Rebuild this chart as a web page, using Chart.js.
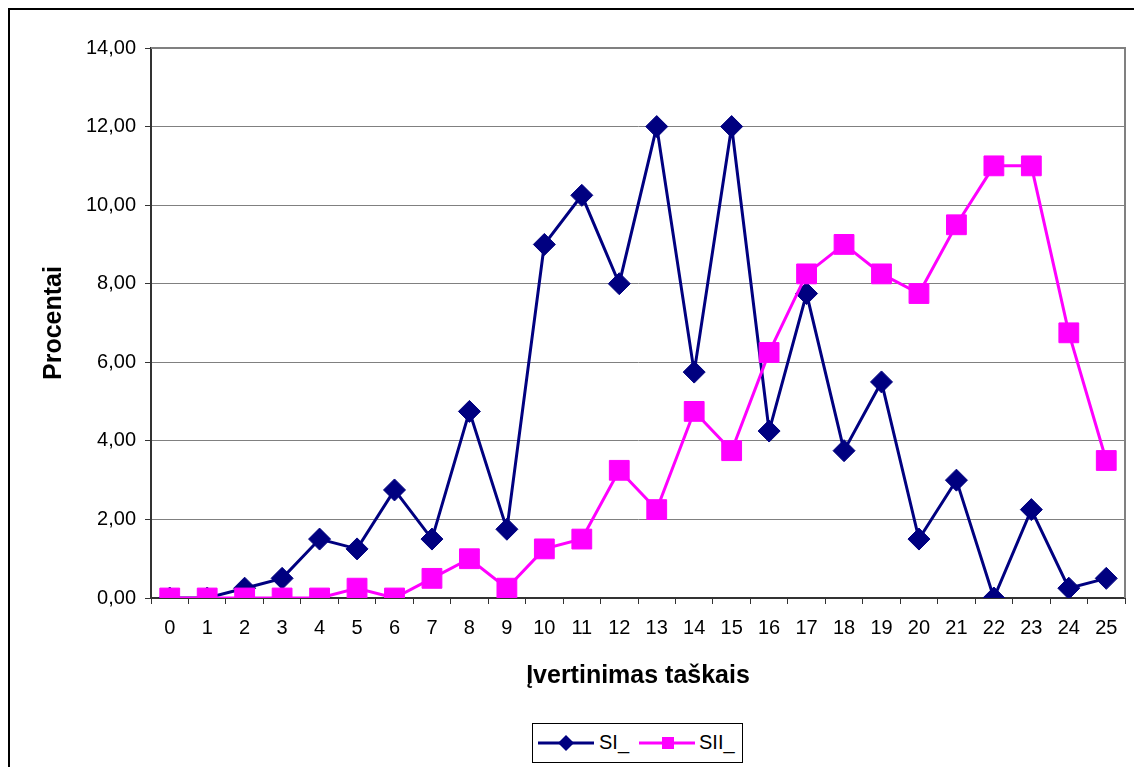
<!DOCTYPE html>
<html>
<head>
<meta charset="utf-8">
<script src="https://cdn.jsdelivr.net/npm/chart.js@4.4.1/dist/chart.umd.min.js"></script>
<style>
  html, body { margin: 0; padding: 0; background: #fff; overflow: hidden; }
  body { width: 1134px; height: 767px; position: relative; font-family: "Liberation Sans", Arial, sans-serif; }
  #frame { position: absolute; left: 8px; top: 8px; width: 1300px; height: 900px; border: 2px solid #000; box-sizing: border-box; }
  #wrap { position: absolute; left: 0; top: 0; width: 1134px; height: 767px; }
  #legend { position: absolute; left: 532px; top: 723px; width: 211px; height: 40px; border: 1px solid #000;
            box-sizing: border-box; background: #fff; font-size: 20px; color: #000; }
  #legend svg, #legend span { position: absolute; }
</style>
</head>
<body>
<div id="frame"></div>
<div id="wrap"><canvas id="lineChart" width="1134" height="767"></canvas></div>
<div id="legend">
  <svg style="left:4px;top:8px" width="58" height="22">
    <line x1="1" y1="11" x2="57" y2="11" stroke="#000080" stroke-width="3"/>
    <polygon points="29,3 37,11 29,19 21,11" fill="#000080"/>
  </svg>
  <span style="left:66px;top:7px">SI_</span>
  <svg style="left:105px;top:8px" width="58" height="22">
    <line x1="1" y1="11" x2="57" y2="11" stroke="#ff00ff" stroke-width="3"/>
    <rect x="24" y="5" width="12" height="12" fill="#ff00ff"/>
  </svg>
  <span style="left:166px;top:7px">SII_</span>
</div>
<script>
// duomenys
var categories = ['0','1','2','3','4','5','6','7','8','9','10','11','12','13','14','15','16','17','18','19','20','21','22','23','24','25'];
var seriesSI = [0, 0, 0.25, 0.5, 1.5, 1.25, 2.75, 1.5, 4.75, 1.75, 9.0, 10.25, 8.0, 12.0, 5.75, 12.0, 4.25, 7.75, 3.75, 5.5, 1.5, 3.0, 0, 2.25, 0.25, 0.5];
var seriesSII = [0, 0, 0, 0, 0, 0.25, 0, 0.5, 1.0, 0.25, 1.25, 1.5, 3.25, 2.25, 4.75, 3.75, 6.25, 8.25, 9.0, 8.25, 7.75, 9.5, 11.0, 11.0, 6.75, 3.5];
var yTicks = [0, 2, 4, 6, 8, 10, 12, 14];

var fontName = '"Liberation Sans", Arial, sans-serif';

// pilkas ploto rėmelis dešinėje ir viršuje
var plotFrame = {
	id: 'plotFrame',
	beforeDatasetsDraw: function(chart) {
		var a = chart.chartArea;
		var ctx = chart.ctx;
		ctx.save();
		ctx.strokeStyle = '#808080';
		ctx.lineWidth = 2;
		ctx.beginPath();
		ctx.moveTo(a.left, a.top);
		ctx.lineTo(a.right, a.top);
		ctx.lineTo(a.right, a.bottom);
		ctx.stroke();
		ctx.restore();
	}
};

const nc = document.getElementById('lineChart');
var lineChart = new Chart(nc, {
	type: 'line',
	data: {
		labels: categories,
		datasets: [{
			label: 'SI_',
			data: seriesSI,
			borderColor: '#000080',
			backgroundColor: '#000080',
			borderWidth: 3,
			pointStyle: 'rectRot',
			pointRadius: 11,
			pointBorderWidth: 1,
			pointBackgroundColor: '#000080',
			pointBorderColor: '#000080',
			tension: 0,
			order: 1
		}, {
			label: 'SII_',
			data: seriesSII,
			borderColor: '#ff00ff',
			backgroundColor: '#ff00ff',
			borderWidth: 3,
			pointStyle: 'rect',
			pointRadius: 14,
			pointBorderWidth: 1,
			pointBackgroundColor: '#ff00ff',
			pointBorderColor: '#ff00ff',
			tension: 0,
			order: 0
		}]
	},
	options: {
		responsive: false,
		animation: false,
		layout: {
			autoPadding: false,
			padding: { left: 0, right: 9, top: 48, bottom: 67 }
		},
		plugins: {
			legend: { display: false },
			tooltip: { enabled: false }
		},
		scales: {
			x: {
				offset: true,
				grid: {
					offset: true,
					drawOnChartArea: false,
					drawTicks: true,
					tickLength: 6,
					tickColor: '#333',
					tickWidth: 1
				},
				border: { color: '#333', width: 2 },
				ticks: {
					color: '#000',
					padding: 12,
					maxRotation: 0,
					autoSkip: false,
					font: { family: fontName, size: 20 }
				},
				title: {
					display: true,
					text: 'Įvertinimas taškais',
					color: '#000',
					padding: { top: 0, bottom: 9 },
					font: { family: fontName, size: 25, weight: 'bold' }
				},
				afterFit: function(scale) {
					scale.height = 102;
					scale.paddingLeft = 0;
					scale.paddingRight = 0;
				}
			},
			y: {
				min: 0,
				max: 14,
				afterBuildTicks: function(scale) {
					scale.ticks = yTicks.map(function(v) { return { value: v }; });
				},
				grid: {
					color: '#808080',
					lineWidth: 1,
					tickLength: 6,
					tickColor: '#333'
				},
				border: { color: '#333', width: 2 },
				ticks: {
					color: '#000',
					padding: 9,
					font: { family: fontName, size: 20 },
					callback: function(v) { return Number(v).toFixed(2).replace('.', ','); }
				},
				title: {
					display: true,
					text: 'Procentai',
					color: '#000',
					padding: { top: 39, bottom: 0 },
					font: { family: fontName, size: 25, weight: 'bold' }
				},
				afterFit: function(scale) { scale.width = 151; }
			}
		}
	},
	plugins: [plotFrame]
});
</script>
</body>
</html>
